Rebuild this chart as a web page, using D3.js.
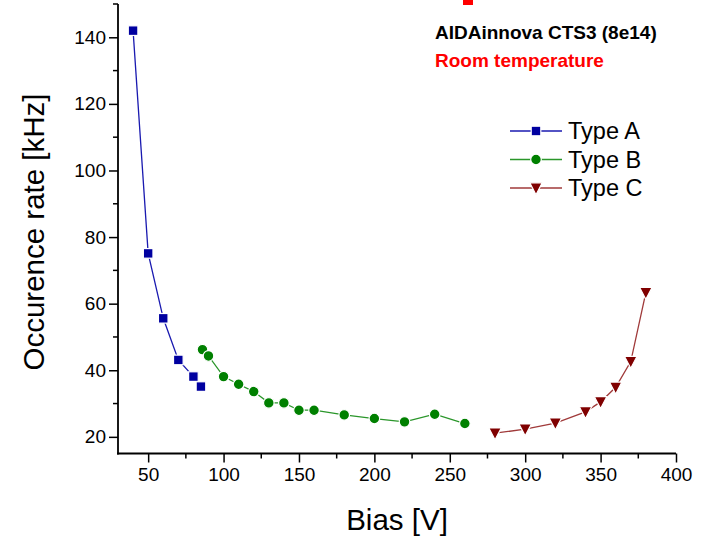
<!DOCTYPE html>
<html>
<head>
<meta charset="utf-8">
<script src="https://cdn.jsdelivr.net/npm/d3@7"></script>
<style>
  html, body { margin: 0; padding: 0; background: #fff; }
  svg { display: block; font-family: Arial, "Liberation Sans", sans-serif; }
</style>
</head>
<body>
<svg id="chart" width="712" height="541"></svg>
<script>
// Occurrence rate vs bias for three pixel types
const biasA = [40, 50, 60, 70, 80, 85];
const rateA = [142, 75.1, 55.6, 43.1, 38.1, 35.1];

const biasB = [86, 90, 100, 110, 120, 130, 140, 150, 160, 180, 200, 220, 240, 260];
const rateB = [46.2, 44.3, 38.1, 35.8, 33.6, 30.2, 30.2, 28.0, 28.0, 26.6, 25.5, 24.5, 26.8, 24.0];

const biasC = [280, 300, 320, 340, 350, 360, 370, 380];
const rateC = [21.1, 22.3, 24.1, 27.5, 30.5, 34.9, 42.6, 63.3];

const seriesNames = ["Type A", "Type B", "Type C"];
const xTicks = [50, 100, 150, 200, 250, 300, 350, 400];
const yTicks = [20, 40, 60, 80, 100, 120, 140];
const titleLines = ["AIDAinnova CTS3 (8e14)", "Room temperature"];

const svg = d3.select("#chart");
const plot = { left: 118, right: 676, top: 4, bottom: 453.5 };

const x = d3.scaleLinear().domain([30, 400]).range([plot.left, plot.right]);
const y = d3.scaleLinear().domain([15, 150]).range([plot.bottom, plot.top]);

const series = [
  { name: seriesNames[0], xs: biasA, ys: rateA, color: "#0000a0", line: "#1a1ab0", shape: "square" },
  { name: seriesNames[1], xs: biasB, ys: rateB, color: "#008000", line: "#2a962a", shape: "circle" },
  { name: seriesNames[2], xs: biasC, ys: rateC, color: "#800000", line: "#a03a3a", shape: "triangle" }
];

function marker(g, shape, cx, cy, color) {
  if (shape === "square") {
    g.append("rect").attr("x", cx - 4.8).attr("y", cy - 4.8).attr("width", 9.6).attr("height", 9.6)
      .attr("fill", color).attr("stroke", "#fff").attr("stroke-width", 1.2);
  } else if (shape === "circle") {
    g.append("circle").attr("cx", cx).attr("cy", cy).attr("r", 5.3)
      .attr("fill", color).attr("stroke", "#fff").attr("stroke-width", 1.2);
  } else {
    const w = 6.2, h = 5.2;
    g.append("path")
      .attr("d", `M${cx - w},${cy - h}L${cx + w},${cy - h}L${cx},${cy + h + 1.5}Z`)
      .attr("fill", color).attr("stroke", "#fff").attr("stroke-width", 1.2);
  }
}

// Minor ticks
const xMinor = d3.range(75, 400, 50);
const yMinor = d3.range(30, 151, 20);
const axisG = svg.append("g");

// x axis
const xAxis = axisG.append("g").attr("transform", `translate(0,${plot.bottom})`)
  .call(d3.axisBottom(x).tickValues(xTicks).tickSize(9).tickSizeOuter(0).tickPadding(5).tickFormat(d3.format("d")));
xAxis.selectAll("line").attr("stroke", "#000").attr("stroke-width", 1.5);
xAxis.append("g").selectAll("line").data(xMinor).join("line")
  .attr("x1", d => x(d)).attr("x2", d => x(d)).attr("y1", 0).attr("y2", 5)
  .attr("stroke", "#000").attr("stroke-width", 1.5);
xAxis.selectAll("text").attr("font-size", 19).attr("fill", "#000").attr("font-family", "Arial, 'Liberation Sans', sans-serif");
xAxis.select(".domain").attr("stroke", "#000").attr("stroke-width", 1.8)
  .attr("d", `M${plot.left - 1},0H${plot.right}`);

// y axis
const yAxis = axisG.append("g").attr("transform", `translate(${plot.left},0)`)
  .call(d3.axisLeft(y).tickValues(yTicks).tickSize(9).tickSizeOuter(0).tickPadding(3).tickFormat(d3.format("d")));
yAxis.selectAll("line").attr("stroke", "#000").attr("stroke-width", 1.5);
yAxis.append("g").selectAll("line").data(yMinor).join("line")
  .attr("y1", d => y(d)).attr("y2", d => y(d)).attr("x1", 0).attr("x2", -5)
  .attr("stroke", "#000").attr("stroke-width", 1.5);
yAxis.selectAll("text").attr("font-size", 19).attr("fill", "#000").attr("font-family", "Arial, 'Liberation Sans', sans-serif");
yAxis.select(".domain").attr("stroke", "#000").attr("stroke-width", 1.8)
  .attr("d", `M0,${plot.top}V${plot.bottom + 1}`);

// Axis titles
svg.append("text").attr("x", 397).attr("y", 530).attr("text-anchor", "middle")
  .attr("font-size", 29.5).attr("fill", "#000").text("Bias [V]");
svg.append("text").attr("transform", `translate(44,232) rotate(-90)`).attr("text-anchor", "middle")
  .attr("font-size", 29.5).attr("fill", "#000").text("Occurence rate [kHz]");

// Data lines and markers
const lineGen = d3.line().x(d => x(d[0])).y(d => y(d[1]));
series.forEach(s => {
  const pts = s.xs.map((v, i) => [v, s.ys[i]]);
  svg.append("path").datum(pts).attr("d", lineGen).attr("fill", "none")
    .attr("stroke", s.line).attr("stroke-width", 1.3);
  const g = svg.append("g");
  pts.forEach(p => marker(g, s.shape, x(p[0]), y(p[1]), s.color));
});

// Annotation
svg.append("rect").attr("x", 463).attr("y", 0).attr("width", 10).attr("height", 5).attr("fill", "#ff0000");
svg.append("text").attr("x", 435).attr("y", 39).attr("font-size", 19).attr("font-weight", "bold")
  .attr("fill", "#000").text(titleLines[0]);
svg.append("text").attr("x", 435).attr("y", 67).attr("font-size", 19).attr("font-weight", "bold")
  .attr("fill", "#ff0000").text(titleLines[1]);

// Legend
const legend = svg.append("g");
series.forEach((s, i) => {
  const ly = 131 + i * 28.5;
  legend.append("line").attr("x1", 510).attr("x2", 562).attr("y1", ly).attr("y2", ly)
    .attr("stroke", s.line).attr("stroke-width", 1.3);
  marker(legend, s.shape, 536, ly, s.color);
  legend.append("text").attr("x", 568).attr("y", ly + 8).attr("font-size", 23.5)
    .attr("fill", "#000").text(s.name);
});
</script>
</body>
</html>
